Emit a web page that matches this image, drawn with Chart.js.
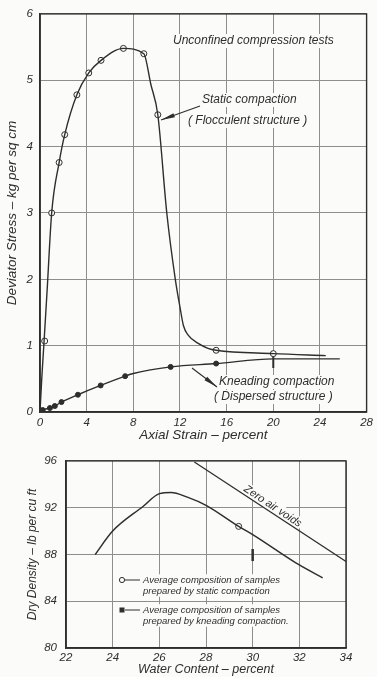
<!DOCTYPE html>
<html lang="en">
<head>
<meta charset="UTF-8">
<title>Unconfined compression tests</title>
<style>
  html, body { margin: 0; padding: 0; background: #fbfbf9; }
  body { width: 377px; height: 677px; position: relative; overflow: hidden; }
  .box { position: absolute; left: 0; width: 377px; }
  #top { top: 0; height: 445px; }
  #bottom { top: 445px; height: 232px; }
</style>
</head>
<body>
<div class="box" id="top"><canvas id="stressChart"></canvas></div>
<div class="box" id="bottom"><canvas id="densityChart"></canvas></div>
<script src="https://cdn.jsdelivr.net/npm/chart.js@4"></script>
<script>
// --- stress / strain curves ---
const staticStrain = [0, 0.15, 0.35, 0.6, 1.0, 1.64, 2.12, 3.16, 4.18, 5.23, 7.15, 8.9, 9.5, 10.1, 10.87, 11.6, 12.0, 12.3, 12.7, 13.6, 14.4, 15.1, 20, 24.5];
const staticStress = [0, 0.5, 1.07, 1.8, 3.0, 3.76, 4.18, 4.78, 5.11, 5.30, 5.48, 5.40, 4.94, 4.48, 3.0, 2.0, 1.58, 1.3, 1.16, 1.03, 0.96, 0.93, 0.88, 0.85];
const staticPtX = [0.4, 1.0, 1.64, 2.12, 3.16, 4.18, 5.23, 7.15, 8.9, 10.1, 15.1, 20];
const staticPtY = [1.07, 3.0, 3.76, 4.18, 4.78, 5.11, 5.30, 5.48, 5.40, 4.48, 0.93, 0.88];

const kneadStrain = [0, 0.23, 0.85, 1.27, 1.84, 3.25, 5.2, 7.3, 8.0, 11.2, 15.1, 20, 25.7];
const kneadStress = [0, 0.03, 0.06, 0.09, 0.15, 0.26, 0.40, 0.54, 0.58, 0.68, 0.73, 0.80, 0.80];
const kneadPtX = [0.23, 0.85, 1.27, 1.84, 3.25, 5.2, 7.3, 11.2, 15.1];
const kneadPtY = [0.03, 0.06, 0.09, 0.15, 0.26, 0.40, 0.54, 0.68, 0.73];
const kneadTickX = [20];
const kneadTickY = [0.77];

const strainTicks = [0, 28, 4];   // min, max, step
const stressTicks = [0, 6, 1];

// --- compaction curve ---
const waterContent = [23.25, 24.0, 25.3, 26.0, 26.5, 27.2, 28.0, 29.4, 30.0, 32.0, 33.0];
const dryDensity = [88.0, 90.0, 92.1, 93.2, 93.3, 92.9, 92.2, 90.4, 89.7, 87.1, 86.0];
const zeroVoidsW = [27.5, 34];
const zeroVoidsD = [95.9, 87.4];
const staticAvgW = [29.4];
const staticAvgD = [90.4];
const kneadAvgW = [30];
const kneadAvgD = [87.95];

const waterTicks = [22, 34, 2];
const densityTicks = [80, 96, 4];

const INK = '#2e2e2e';
const GRID = '#8e8e8e';
const PAPER = '#fbfbf9';
const FAMILY = "'Liberation Sans', Arial, sans-serif";

const toPts = (xs, ys) => xs.map((x, i) => ({ x: x, y: ys[i] }));

function text(ctx, str, x, y, size, opts) {
    opts = opts || {};
    ctx.save();
    ctx.font = 'italic ' + size + 'px ' + FAMILY;
    ctx.textBaseline = 'middle';
    ctx.textAlign = 'left';
    ctx.translate(x, y);
    if (opts.rotate) ctx.rotate(opts.rotate);
    if (opts.bg !== false) {
        const w = ctx.measureText(str).width;
        ctx.fillStyle = PAPER;
        ctx.fillRect(-1, -size / 2 - 1, w + 2, size + 2);
    }
    ctx.fillStyle = INK;
    ctx.fillText(str, 0, 0);
    ctx.restore();
}

function arrow(ctx, x1, y1, x2, y2) {
    // line from (x1,y1) to (x2,y2) with a wedge at (x2,y2)
    ctx.save();
    ctx.strokeStyle = INK;
    ctx.fillStyle = INK;
    ctx.lineWidth = 1.1;
    ctx.beginPath();
    ctx.moveTo(x1, y1);
    ctx.lineTo(x2, y2);
    ctx.stroke();
    const a = Math.atan2(y2 - y1, x2 - x1);
    const len = 14, half = 2.2;
    ctx.beginPath();
    ctx.moveTo(x2, y2);
    ctx.lineTo(x2 - len * Math.cos(a) - half * Math.sin(a), y2 - len * Math.sin(a) + half * Math.cos(a));
    ctx.lineTo(x2 - len * Math.cos(a) + half * Math.sin(a), y2 - len * Math.sin(a) - half * Math.cos(a));
    ctx.closePath();
    ctx.fill();
    ctx.restore();
}

function axis(range, width, title, titleSize, titlePad, tickPad, horizontal) {
    return {
        type: 'linear',
        min: range[0],
        max: range[1],
        ticks: {
            stepSize: range[2],
            color: INK,
            padding: tickPad,
            font: { family: FAMILY, size: 11.5, style: 'italic' }
        },
        grid: { color: GRID, lineWidth: 1, drawTicks: false },
        border: { color: INK, width: 1.4 },
        title: {
            display: true,
            text: title,
            color: INK,
            padding: titlePad,
            font: { family: FAMILY, size: titleSize, style: 'italic' }
        },
        afterFit: function(s) {
            if (horizontal) s.height = width; else s.width = width;
        }
    };
}

const framePlugin = {
    id: 'frame',
    afterDraw(chart) {
        const a = chart.chartArea;
        const ctx = chart.ctx;
        ctx.save();
        ctx.strokeStyle = INK;
        ctx.lineWidth = 1.4;
        ctx.strokeRect(a.left, a.top, a.right - a.left, a.bottom - a.top);
        ctx.restore();
    }
};

const stressNotes = {
    id: 'stressNotes',
    beforeDatasetsDraw(chart) {
        const ctx = chart.ctx;
        text(ctx, 'Unconfined compression tests', 173, 41, 12);
        text(ctx, 'Static compaction', 202, 100, 12);
        text(ctx, '( Flocculent structure )', 188, 121, 12);
        text(ctx, 'Kneading compaction', 219, 382, 12);
        text(ctx, '( Dispersed structure )', 214, 397, 12);
    },
    afterDatasetsDraw(chart) {
        const ctx = chart.ctx;
        arrow(ctx, 200, 106, 161, 120);
        arrow(ctx, 192, 368, 217, 387);
    }
};

const densityNotes = {
    id: 'densityNotes',
    beforeDatasetsDraw(chart) {
        const ctx = chart.ctx;
        text(ctx, 'Average composition of samples', 143, 135, 9.5);
        text(ctx, 'prepared by static compaction', 143, 146, 9.5);
        text(ctx, 'Average composition of samples', 143, 165, 9.5);
        text(ctx, 'prepared by kneading compaction.', 143, 176, 9.5);
        text(ctx, 'Zero air voids', 245, 43, 11, { rotate: 33.5 * Math.PI / 180 });
        ctx.save();
        ctx.strokeStyle = INK;
        ctx.fillStyle = INK;
        ctx.lineWidth = 1;
        ctx.beginPath();
        ctx.moveTo(125, 135); ctx.lineTo(140, 135);
        ctx.moveTo(125, 165); ctx.lineTo(140, 165);
        ctx.stroke();
        ctx.beginPath();
        ctx.arc(122, 135, 2.6, 0, Math.PI * 2);
        ctx.fillStyle = PAPER;
        ctx.fill();
        ctx.stroke();
        ctx.fillStyle = INK;
        ctx.fillRect(119.5, 162.5, 5, 5);
        ctx.restore();
    }
};

Chart.defaults.animation = false;

new Chart(document.getElementById('stressChart'), {
    type: 'scatter',
    data: {
        datasets: [
            { data: toPts(staticStrain, staticStress), showLine: true, borderColor: INK, borderWidth: 1.4, pointRadius: 0, cubicInterpolationMode: 'monotone' },
            { data: toPts(staticPtX, staticPtY), pointRadius: 3, pointBackgroundColor: PAPER, pointBorderColor: INK, pointBorderWidth: 1 },
            { data: toPts(kneadStrain, kneadStress), showLine: true, borderColor: INK, borderWidth: 1.4, pointRadius: 0, cubicInterpolationMode: 'monotone' },
            { data: toPts(kneadPtX, kneadPtY), pointRadius: 2.5, pointBackgroundColor: INK, pointBorderColor: INK, pointBorderWidth: 1 },
            { data: toPts(kneadTickX, kneadTickY), pointStyle: 'line', rotation: 90, pointRadius: 7, pointBorderColor: INK, pointBorderWidth: 2 }
        ]
    },
    options: {
        responsive: true,
        maintainAspectRatio: false,
        layout: { padding: { top: 13, right: 7, left: 0, bottom: 0 } },
        plugins: { legend: { display: false }, tooltip: { enabled: false } },
        scales: {
            x: axis(strainTicks, 33, 'Axial Strain \u2013 percent', 13.5, { top: 0, bottom: 2 }, 4, true),
            y: axis(stressTicks, 40, 'Deviator Stress \u2013 kg per sq cm', 13.5, { top: 4, bottom: 0 }, 7, false)
        }
    },
    plugins: [framePlugin, stressNotes]
});

new Chart(document.getElementById('densityChart'), {
    type: 'scatter',
    data: {
        datasets: [
            { data: toPts(waterContent, dryDensity), showLine: true, borderColor: INK, borderWidth: 1.5, pointRadius: 0, cubicInterpolationMode: 'monotone' },
            { data: toPts(zeroVoidsW, zeroVoidsD), showLine: true, borderColor: INK, borderWidth: 1.3, pointRadius: 0 },
            { data: toPts(staticAvgW, staticAvgD), pointRadius: 3, pointBackgroundColor: PAPER, pointBorderColor: INK, pointBorderWidth: 1 },
            { data: toPts(kneadAvgW, kneadAvgD), pointStyle: 'line', rotation: 90, pointRadius: 6, pointBorderColor: INK, pointBorderWidth: 2.5 }
        ]
    },
    options: {
        responsive: true,
        maintainAspectRatio: false,
        layout: { padding: { top: 14, right: 31, left: 0, bottom: 0 } },
        plugins: { legend: { display: false }, tooltip: { enabled: false } },
        scales: {
            x: axis(waterTicks, 29, 'Water Content \u2013 percent', 12.5, { top: 0, bottom: 0 }, 3, true),
            y: axis(densityTicks, 66, 'Dry Density \u2013 lb per cu ft', 12, { top: 25, bottom: 0 }, 9, false)
        }
    },
    plugins: [framePlugin, densityNotes]
});
</script>
</body>
</html>
